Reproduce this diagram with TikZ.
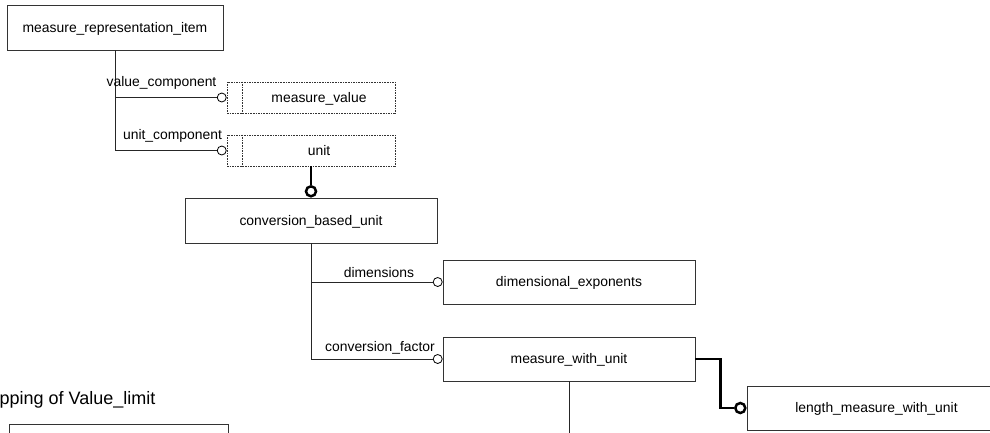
\documentclass[tikz,border=0pt]{standalone}
\usepackage{fontspec}
\setmainfont{Liberation Sans}
\usetikzlibrary{calc}
\begin{document}
\begin{tikzpicture}[x=1pt,y=-1pt,
  txt/.style={font=\fontsize{13.9}{16}\selectfont},
  ent/.style={txt, draw=black!80, line width=0.8pt, inner sep=0pt, text height=11pt, text depth=2pt},
  sel/.style={ent, dash pattern=on 1.6pt off 1pt, line width=0.7pt},
  lab/.style={txt, inner sep=0pt, anchor=base},
  conn/.style={draw=black!85, line width=0.8pt},
  thickconn/.style={draw=black, line width=2.5pt},
  ocirc/.style={circle, draw=black, fill=white, inner sep=0pt, minimum size=9pt, line width=0.8pt},
  bcirc/.style={circle, draw=black, fill=white, inner sep=0pt, minimum size=10pt, line width=2.5pt}]
\useasboundingbox (0,0) rectangle (990,432);
\clip (0,0) rectangle (990,432);

% entities
\node[ent, minimum width=216pt, minimum height=45pt] (mri) at (115,27.5) {measure\_representation\_item};
\node[sel, minimum width=168pt, minimum height=31pt] (mv) at (311,97.5) {\hspace*{16pt}measure\_value};
\node[sel, minimum width=168pt, minimum height=31pt] (un) at (311,150.5) {\hspace*{16pt}unit};
\draw[sel] ($(mv.north west)+(16,0)$) -- ($(mv.south west)+(16,0)$);
\draw[sel] ($(un.north west)+(16,0)$) -- ($(un.south west)+(16,0)$);
\node[ent, minimum width=252pt, minimum height=45pt] (cbu) at (311,220.5) {conversion\_based\_unit};
\node[ent, minimum width=252pt, minimum height=44pt] (de) at (569,282) {dimensional\_exponents};
\node[ent, minimum width=252pt, minimum height=44pt] (mwu) at (569,359) {measure\_with\_unit};
\node[ent, minimum width=259pt, minimum height=44pt] (lmwu) at (876.5,408) {length\_measure\_with\_unit};
\node[ent, minimum width=219pt, minimum height=44pt] (vl) at (118.5,446) {};

% title (cut at the left edge, as in the reference)
\node[anchor=base east, inner sep=0pt, font=\fontsize{18}{21}\selectfont] (ttl) at (155.5,404) {Mapping of Value\_limit};

% circles
\node[ocirc] (o1) at ($(mv.west)+(-4.9,0)$) {};
\node[ocirc] (o2) at ($(un.west)+(-4.9,0)$) {};
\node[bcirc] (o3) at ($(cbu.north)+(0,-6.3)$) {};
\node[ocirc] (o4) at ($(de.west)+(-4.9,0)$) {};
\node[ocirc] (o5) at ($(mwu.west)+(-4.9,0)$) {};
\node[bcirc] (o6) at ($(lmwu.west)+(-6.3,0)$) {};

% connectors
\draw[conn] (mri.south) |- (o1.west);
\draw[conn] (mri.south) |- (o2.west);
\draw[thickconn] (un.south) -- (o3.north);
\draw[conn] (cbu.south) |- (o4.west);
\draw[conn] (cbu.south) |- (o5.west);
\coordinate (mwuend) at (569,440);
\draw[conn] (mwu.south) -- (mwuend);
\draw[thickconn] (mwu.east) -- ++(25,0) |- (o6.west);

% labels
\node[lab] (l1) at (161.5,86) {value\_component};
\node[lab] (l2) at (172.5,139) {unit\_component};
\node[lab] (l3) at (379,277) {dimensions};
\node[lab] (l4) at (380,351) {conversion\_factor};
\end{tikzpicture}
\end{document}
